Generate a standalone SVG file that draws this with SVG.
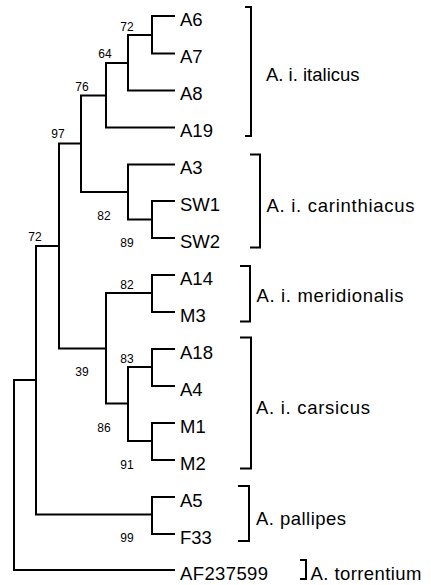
<svg xmlns="http://www.w3.org/2000/svg" width="431" height="585" viewBox="0 0 431 585">
<style>
text{font-family:"Liberation Sans",Arial,Helvetica,sans-serif;fill:#000}
.leaf{font-size:18.5px}
.grp{font-size:18.5px}
.bs{font-size:12px;text-anchor:middle}
.br{fill:none;stroke:#000;stroke-width:2}
#tree path{fill:none;stroke:#000;stroke-width:2;stroke-linecap:square}
</style>
<rect width="431" height="585" fill="#fff"/>
<g id="tree">
<path d="M152 16V53.5M152 16H174M152 53.5H174"/>
<path d="M128 35V90.5M128 35H152M128 90.5H174"/>
<path d="M106 63V127.5M106 63H128M106 127.5H174"/>
<path d="M81 95.5V192M81 95.5H106M81 192H128"/>
<path d="M128 164.5V219.5M128 164.5H174M128 219.5H152"/>
<path d="M152 201V238M152 201H174M152 238H174"/>
<path d="M59 143.5V348.5M59 143.5H81M59 348.5H106"/>
<path d="M106 293V403.5M106 293H152M106 403.5H128"/>
<path d="M152 275V312M152 275H174M152 312H174"/>
<path d="M128 367V441M128 367H152M128 441H152"/>
<path d="M152 349V386M152 349H174M152 386H174"/>
<path d="M152 423V460M152 423H174M152 460H174"/>
<path d="M36 246V514.5M36 246H59M36 514.5H152"/>
<path d="M152 497V534M152 497H174M152 534H174"/>
<path d="M14 380V473.5M14 475V570M14 380H36M14 570H174"/>
</g>
<g id="bootstrap">
<text class="bs" x="127" y="31">72</text>
<text class="bs" x="105" y="58">64</text>
<text class="bs" x="82" y="91">76</text>
<text class="bs" x="58" y="138">97</text>
<text class="bs" x="104" y="220">82</text>
<text class="bs" x="127" y="247">89</text>
<text class="bs" x="35" y="241">72</text>
<text class="bs" x="127" y="289">82</text>
<text class="bs" x="127" y="363">83</text>
<text class="bs" x="82" y="376">39</text>
<text class="bs" x="104" y="432">86</text>
<text class="bs" x="127" y="469">91</text>
<text class="bs" x="127" y="542">99</text>
</g>
<g id="leaves">
<text class="leaf" x="180" y="25.5">A6</text>
<text class="leaf" x="180" y="62.5">A7</text>
<text class="leaf" x="180" y="99.5">A8</text>
<text class="leaf" x="180" y="136.5">A19</text>
<text class="leaf" x="180" y="173.5">A3</text>
<text class="leaf" x="180" y="210.5">SW1</text>
<text class="leaf" x="180" y="247.5">SW2</text>
<text class="leaf" x="180" y="284.5">A14</text>
<text class="leaf" x="180" y="321.5">M3</text>
<text class="leaf" x="180" y="358.5">A18</text>
<text class="leaf" x="180" y="395.5">A4</text>
<text class="leaf" x="180" y="432.5">M1</text>
<text class="leaf" x="180" y="469.5">M2</text>
<text class="leaf" x="180" y="506.5">A5</text>
<text class="leaf" x="180" y="543.5">F33</text>
<text class="leaf" x="180" y="580" textLength="88" lengthAdjust="spacing">AF237599</text>
</g>
<g id="italicus">
<path class="br" d="M245 7H251V136H245"/>
<text class="grp" x="266" y="81">A. i. italicus</text>
</g>
<g id="carinthiacus">
<path class="br" d="M250 154.5H260V247.5H250"/>
<text class="grp" x="266.5" y="211.5" textLength="148" lengthAdjust="spacing">A. i. carinthiacus</text>
</g>
<g id="meridionalis">
<path class="br" d="M240 266H250V321.5H240"/>
<text class="grp" x="256.5" y="302" textLength="147" lengthAdjust="spacing">A. i. meridionalis</text>
</g>
<g id="carsicus">
<path class="br" d="M240 337.5H251V468.5H240"/>
<text class="grp" x="256" y="414" textLength="114" lengthAdjust="spacing">A. i. carsicus</text>
</g>
<g id="pallipes">
<path class="br" d="M238 486H249V541H238"/>
<text class="grp" x="256" y="525" textLength="90" lengthAdjust="spacing">A. pallipes</text>
</g>
<g id="torrentium">
<path class="br" d="M300 560H306V579H300"/>
<text class="grp" x="310.5" y="580" textLength="111" lengthAdjust="spacing">A. torrentium</text>
</g>
</svg>
